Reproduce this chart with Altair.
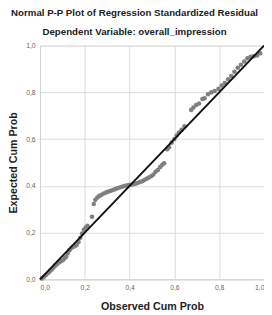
import altair as alt
import pandas as pd

observed = [0.008,0.017,0.026,0.035,0.043,0.052,0.060,0.068,0.077,0.085,0.093,0.102,0.110,0.117,0.124,0.132,0.140,0.148,0.156,0.164,0.172,0.180,0.188,0.196,0.204,0.212,0.232,0.240,0.247,0.256,0.265,0.275,0.285,0.296,0.306,0.316,0.326,0.336,0.346,0.356,0.366,0.376,0.386,0.396,0.406,0.416,0.426,0.436,0.446,0.456,0.466,0.476,0.486,0.496,0.506,0.516,0.526,0.536,0.546,0.554,0.568,0.576,0.588,0.600,0.610,0.620,0.632,0.645,0.675,0.685,0.697,0.710,0.725,0.735,0.750,0.765,0.780,0.797,0.811,0.825,0.840,0.854,0.868,0.883,0.897,0.912,0.926,0.940,0.955,0.969,0.983]
expected = [0.004,0.010,0.018,0.026,0.033,0.041,0.050,0.058,0.066,0.072,0.077,0.082,0.090,0.097,0.112,0.124,0.134,0.139,0.142,0.148,0.160,0.178,0.196,0.212,0.222,0.229,0.268,0.322,0.340,0.350,0.357,0.362,0.367,0.372,0.376,0.379,0.382,0.386,0.390,0.393,0.396,0.399,0.401,0.403,0.405,0.407,0.409,0.412,0.416,0.420,0.425,0.430,0.436,0.441,0.448,0.460,0.468,0.480,0.490,0.497,0.557,0.565,0.585,0.600,0.615,0.628,0.640,0.655,0.725,0.735,0.746,0.752,0.772,0.775,0.792,0.800,0.806,0.815,0.829,0.840,0.856,0.870,0.888,0.905,0.918,0.932,0.946,0.952,0.955,0.958,0.967]
ref_line = [0.0, 1.0]
ticks = [0.0, 0.2, 0.4, 0.6, 0.8, 1.0]

pts = pd.DataFrame({"obs": observed, "exp": expected})
line_df = pd.DataFrame({"obs": ref_line, "exp": ref_line})

FONT = "Liberation Sans"
label_expr = "replace(format(datum.value, '.1f'), '.', ',')"

xscale = alt.Scale(domain=[0, 1], nice=False)
yscale = alt.Scale(domain=[0, 1], nice=False)

xaxis = alt.Axis(values=ticks, labelExpr=label_expr, title="Observed Cum Prob",
                 titleFont=FONT, titleFontSize=11, titleFontWeight="bold", titleColor="#222",
                 titlePadding=11, labelFont=FONT, labelFontSize=7, labelColor="#666",
                 labelPadding=4, ticks=False, domainColor="#d4d4d4", gridColor="#dcdcdc")
yaxis = alt.Axis(values=ticks, labelExpr=label_expr, title="Expected Cum Prob",
                 titleFont=FONT, titleFontSize=11, titleFontWeight="bold", titleColor="#222",
                 titlePadding=8, labelFont=FONT, labelFontSize=7, labelColor="#666",
                 labelPadding=5, ticks=False, domainColor="#d4d4d4", gridColor="#dcdcdc")

points = alt.Chart(pts).mark_circle(color="#7f7f7f", opacity=1, size=22).encode(
    x=alt.X("obs:Q", scale=xscale, axis=xaxis),
    y=alt.Y("exp:Q", scale=yscale, axis=yaxis),
)
line = alt.Chart(line_df).mark_line(color="#111", strokeWidth=2).encode(
    x=alt.X("obs:Q", scale=xscale),
    y=alt.Y("exp:Q", scale=yscale),
)

chart = (points + line).properties(
    width=231, height=241,
    title=alt.TitleParams(
        text="Normal P-P Plot of Regression Standardized Residual",
        subtitle="Dependent Variable: overall_impression",
        font=FONT, fontSize=10, fontWeight="bold", color="#222",
        subtitleFont=FONT, subtitleFontSize=10, subtitleFontWeight="bold", subtitleColor="#222",
        subtitlePadding=10, anchor="middle", dx=-18, offset=5,
    ),
    autosize=alt.AutoSizeParams(type="none"),
    padding={"left": 33, "top": 34, "right": 0, "bottom": 32},
).configure_view(stroke=None).configure(background="white")

chart.save("out.html", embed_options={"renderer": "svg", "actions": False})
